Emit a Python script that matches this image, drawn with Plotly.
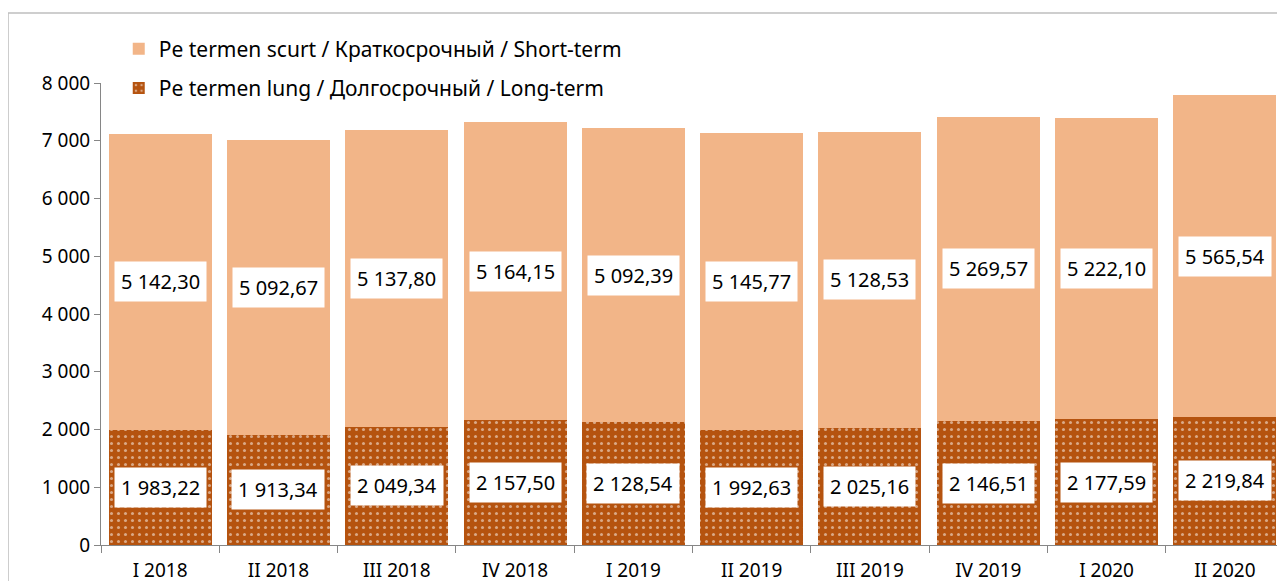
import plotly.graph_objects as go

categories = ["I 2018", "II 2018", "III 2018", "IV 2018", "I 2019", "II 2019",
              "III 2019", "IV 2019", "I 2020", "II 2020"]
long_term = [1983.22, 1913.34, 2049.34, 2157.50, 2128.54, 1992.63, 2025.16, 2146.51, 2177.59, 2219.84]
short_term = [5142.30, 5092.67, 5137.80, 5164.15, 5092.39, 5145.77, 5128.53, 5269.57, 5222.10, 5565.54]
y_ticks = [0, 1000, 2000, 3000, 4000, 5000, 6000, 7000, 8000]
y_tick_labels = ["0", "1 000", "2 000", "3 000", "4 000", "5 000", "6 000", "7 000", "8 000"]

def fmt(v):
    s = f"{v:,.2f}"
    return s.replace(",", " ").replace(".", ",")

FONT = "Noto Sans"
fig = go.Figure()
fig.add_trace(go.Bar(
    x=categories, y=long_term, name="Pe termen lung / Долгосрочный / Long-term",
    legendgroup="lt", legendrank=2,
    marker=dict(color="#B5530F", line=dict(width=0),
                pattern=dict(shape=".", fgcolor="white", bgcolor="#B5530F", size=7, solidity=0.15)),
))
fig.add_trace(go.Bar(
    x=categories, y=short_term, name="Pe termen scurt / Краткосрочный / Short-term",
    legendgroup="st", legendrank=1,
    marker=dict(color="#F2B588", line=dict(width=0)),
))

for c, lv, sv in zip(categories, long_term, short_term):
    fig.add_annotation(x=c, y=lv / 2, text=fmt(lv), showarrow=False, bgcolor="white",
                       font=dict(family=FONT, size=20, color="black"), borderpad=6)
    fig.add_annotation(x=c, y=lv + sv / 2, text=fmt(sv), showarrow=False, bgcolor="white",
                       font=dict(family=FONT, size=20, color="black"), borderpad=6)

fig.add_shape(type="rect", xref="paper", yref="paper", x0=-0.0786, x1=1.2, y0=-0.5, y1=1.1515,
              line=dict(color="#BFBFBF", width=1.5), fillcolor="rgba(0,0,0,0)", layer="below")

fig.update_layout(
    barmode="stack", bargap=0.13,
    width=1277, height=573,
    margin=dict(l=93, r=1, t=75, b=36),
    plot_bgcolor="white", paper_bgcolor="white",
    font=dict(family=FONT, size=19, color="black"),
    showlegend=True,
    legend=dict(x=0.015, y=1.118, xanchor="left", yanchor="top", traceorder="grouped",
                font=dict(family=FONT, size=21), bgcolor="rgba(0,0,0,0)",
                itemwidth=30, tracegroupgap=9),
    xaxis=dict(showline=True, linecolor="#868686", linewidth=1, ticks="outside",
               tickson="boundaries", ticklen=7, tickcolor="#868686", showgrid=False,
               ticklabelstandoff=8, automargin=False, tickfont=dict(family=FONT, size=19)),
    yaxis=dict(range=[0, 8000], tickvals=y_ticks, ticktext=y_tick_labels, showline=True,
               linecolor="#868686", linewidth=1, ticks="outside", ticklen=6, tickcolor="#868686",
               showgrid=False, zeroline=False, automargin=False, tickfont=dict(family=FONT, size=19)),
)

fig.write_html("out.html")
